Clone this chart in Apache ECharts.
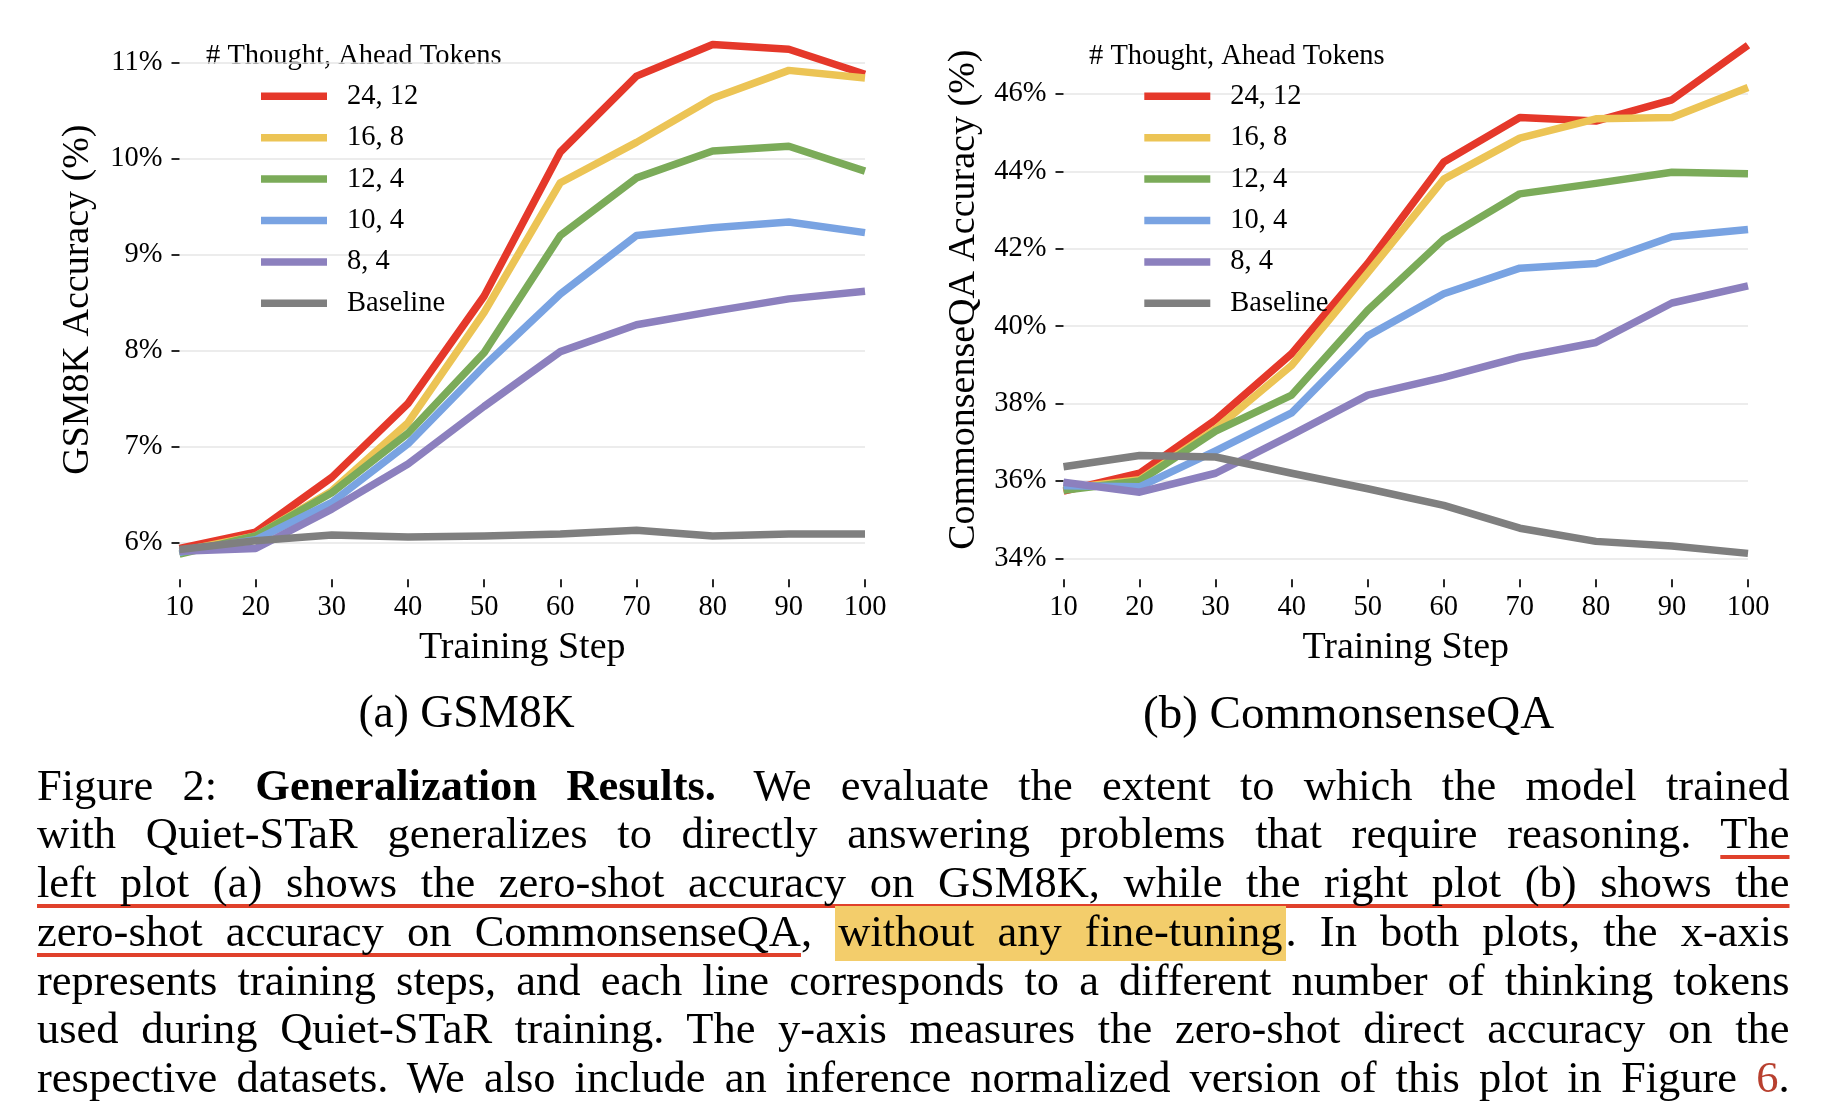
<!DOCTYPE html>
<html>
<head>
<meta charset="utf-8">
<script src="https://cdn.jsdelivr.net/npm/echarts@6/dist/echarts.min.js"></script>
<style>
html,body{margin:0;padding:0;background:#fff;}
#chart{position:absolute;left:0;top:0;width:1840px;height:1116px;}
#caption{position:absolute;left:37px;top:0;width:1753px;font-family:"Liberation Serif";font-size:44.5px;color:#000;}
.ln{position:absolute;left:0;white-space:pre;line-height:48.7px;height:48.7px;}
.ul{text-decoration:underline;text-decoration-color:#e0412b;text-decoration-thickness:4px;text-underline-offset:7px;text-decoration-skip-ink:none;}
.hl{background:#f3cd6b;padding:0 3px 5px 3px;}
.ref{color:#b8402f;}
.sp{display:inline-block;width:9px;}
</style>
</head>
<body>
<div id="chart"></div>
<div id="caption">
<div class="ln" style="top:760.7px">Figure 2:<span class="sp"></span> <b>Generalization Results.</b><span class="sp"></span> We evaluate the extent to which the model trained</div>
<div class="ln" style="top:809.4px">with Quiet-STaR generalizes to directly answering problems that require reasoning. <span class="ul">The</span></div>
<div class="ln" style="top:858.1px"><span class="ul">left plot (a) shows the zero-shot accuracy on GSM8K, while the right plot (b) shows the</span></div>
<div class="ln" style="top:906.8px"><span class="ul">zero-shot accuracy on CommonsenseQA</span>, <span class="hl">without any fine-tuning</span>. In both plots, the x-axis</div>
<div class="ln" style="top:955.5px">represents training steps, and each line corresponds to a different number of thinking tokens</div>
<div class="ln" style="top:1004.2px">used during Quiet-STaR training. The y-axis measures the zero-shot direct accuracy on the</div>
<div class="ln" style="top:1052.9px">respective datasets. We also include an inference normalized version of this plot in Figure <span class="ref">6</span>.</div>
</div>
<script>
// ---- data ----
const steps = [10, 20, 30, 40, 50, 60, 70, 80, 90, 100];
const seriesNames = ['24, 12', '16, 8', '12, 4', '10, 4', '8, 4', 'Baseline'];

const gsm8k_24_12 = [5.94, 6.11, 6.68, 7.45, 8.57, 10.07, 10.86, 11.19, 11.14, 10.88];
const gsm8k_16_8  = [5.91, 6.07, 6.54, 7.25, 8.40, 9.75, 10.17, 10.63, 10.92, 10.84];
const gsm8k_12_4  = [5.88, 6.07, 6.52, 7.14, 7.98, 9.20, 9.80, 10.08, 10.13, 9.87];
const gsm8k_10_4  = [5.90, 6.03, 6.42, 7.03, 7.84, 8.59, 9.20, 9.28, 9.34, 9.23];
const gsm8k_8_4   = [5.91, 5.94, 6.35, 6.82, 7.42, 7.99, 8.27, 8.41, 8.54, 8.62];
const gsm8k_base  = [5.93, 6.02, 6.08, 6.06, 6.07, 6.09, 6.13, 6.07, 6.09, 6.09];

const csqa_24_12 = [35.74, 36.20, 37.58, 39.29, 41.62, 44.24, 45.39, 45.30, 45.85, 47.26];
const csqa_16_8  = [35.80, 36.03, 37.35, 38.99, 41.38, 43.80, 44.86, 45.36, 45.39, 46.17];
const csqa_12_4  = [35.76, 36.00, 37.29, 38.22, 40.41, 42.25, 43.42, 43.69, 43.98, 43.94];
const csqa_10_4  = [35.88, 35.85, 36.78, 37.76, 39.75, 40.84, 41.50, 41.62, 42.31, 42.50];
const csqa_8_4   = [35.97, 35.71, 36.20, 37.19, 38.22, 38.68, 39.20, 39.58, 40.60, 41.04];
const csqa_base  = [36.37, 36.66, 36.62, 36.20, 35.80, 35.37, 34.78, 34.44, 34.32, 34.13];

const gsm8kYTicks = [6, 7, 8, 9, 10, 11];
const csqaYTicks  = [34, 36, 38, 40, 42, 44, 46];

// ---- style ----
const colors = ['#e5382a', '#ecc455', '#7bab59', '#79a3e2', '#8c80be', '#7f7f7f'];
const FONT = '"Liberation Serif", "Times New Roman", serif';

const gsmData = [gsm8k_24_12, gsm8k_16_8, gsm8k_12_4, gsm8k_10_4, gsm8k_8_4, gsm8k_base];
const csqaData = [csqa_24_12, csqa_16_8, csqa_12_4, csqa_10_4, csqa_8_4, csqa_base];

function mkSeries(arrs, idx) {
  return arrs.map((arr, i) => ({
    type: 'line',
    name: seriesNames[i],
    xAxisIndex: idx,
    yAxisIndex: idx,
    data: steps.map((s, k) => [s, arr[k]]),
    showSymbol: false,
    symbol: 'none',
    lineStyle: { width: 7.5, color: colors[i], join: 'round', cap: 'butt' },
    itemStyle: { color: colors[i] },
    emphasis: { disabled: true },
    silent: true
  }));
}

function mkX(idx) {
  return {
    gridIndex: idx, type: 'value', min: 10, max: 100, interval: 10,
    axisLine: { show: false },
    axisTick: { show: true, length: 8, lineStyle: { color: '#111', width: 1.8 } },
    axisLabel: { margin: 14, fontFamily: FONT, fontSize: 28.5, color: '#000' },
    splitLine: { show: false },
    name: 'Training Step', nameLocation: 'middle', nameGap: 50,
    nameTextStyle: { fontFamily: FONT, fontSize: 38, color: '#000' }
  };
}

function mkY(idx, min, max, ticks, name, gap) {
  return {
    gridIndex: idx, type: 'value', min: min, max: max,
    axisLine: { show: false },
    axisTick: { show: true, length: 8, lineStyle: { color: '#111', width: 1.8 }, customValues: ticks },
    axisLabel: { customValues: ticks, formatter: v => v + '%', margin: 17, fontFamily: FONT, fontSize: 28.5, color: '#000' },
    splitLine: { show: true, lineStyle: { color: '#e6e6e6', width: 1.5 } },
    name: name, nameLocation: 'middle', nameGap: gap,
    nameTextStyle: { fontFamily: FONT, fontSize: 38, color: '#000' }
  };
}

function mkLegend(left) {
  return {
    orient: 'vertical', left: left, top: 81.8, padding: 0,
    itemWidth: 66, itemHeight: 7.5, itemGap: 12.4, icon: 'rect',
    selectedMode: false,
    textStyle: { fontFamily: FONT, fontSize: 28.5, color: '#000', lineHeight: 29, padding: [0, 0, 0, 15] },
    data: seriesNames
  };
}

const chart = echarts.init(document.getElementById('chart'), null, { renderer: 'canvas' });
chart.setOption({
  animation: false,
  backgroundColor: '#fff',
  grid: [
    { left: 179.5, top: 20, width: 685.5, height: 559.3, containLabel: false, outerBoundsMode: 'none' },
    { left: 1063.5, top: 20, width: 684.5, height: 559.3, containLabel: false, outerBoundsMode: 'none' }
  ],
  xAxis: [mkX(0), mkX(1)],
  yAxis: [
    mkY(0, 5.61875, 11.4448, gsm8kYTicks, 'GSM8K Accuracy (%)', 82),
    mkY(1, 33.46, 47.912, csqaYTicks, 'CommonsenseQA Accuracy (%)', 80)
  ],
  legend: [mkLegend(261), mkLegend(1144.3)],
  graphic: [
    { type: 'text', x: 206, y: 56.5, silent: true,
      style: { text: '# Thought, Ahead Tokens', fontFamily: FONT, fontSize: 28.5, fill: '#000', align: 'left', verticalAlign: 'middle' } },
    { type: 'text', x: 1089, y: 56.5, silent: true,
      style: { text: '# Thought, Ahead Tokens', fontFamily: FONT, fontSize: 28.5, fill: '#000', align: 'left', verticalAlign: 'middle' } },
    { type: 'text', x: 466.5, y: 715.5, silent: true,
      style: { text: '(a) GSM8K', fontFamily: FONT, fontSize: 45.5, fill: '#000', align: 'center', verticalAlign: 'middle' } },
    { type: 'text', x: 1348.6, y: 715.5, silent: true,
      style: { text: '(b) CommonsenseQA', fontFamily: FONT, fontSize: 47, fill: '#000', align: 'center', verticalAlign: 'middle' } }
  ],
  series: mkSeries(gsmData, 0).concat(mkSeries(csqaData, 1))
});

// justify caption lines to the text block width
const TARGET = 1752.5;
function justify() {
  document.querySelectorAll('#caption .ln').forEach(el => {
    el.style.wordSpacing = '0px';
    const w = el.getBoundingClientRect().width;
    const n = (el.textContent.match(/ /g) || []).length;
    if (n > 0) el.style.wordSpacing = ((TARGET - w) / n) + 'px';
  });
}
justify();
if (document.fonts && document.fonts.ready) document.fonts.ready.then(justify);
</script>
</body>
</html>
